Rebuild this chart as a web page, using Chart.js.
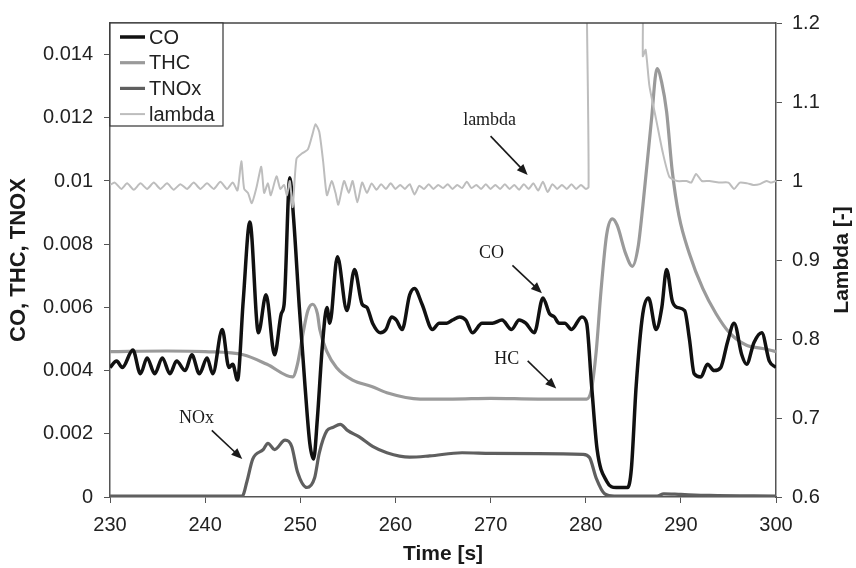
<!DOCTYPE html>
<html>
<head>
<meta charset="utf-8">
<script src="https://cdn.jsdelivr.net/npm/chart.js@4.4.0/dist/chart.umd.min.js"></script>
<style>
  html, body { margin: 0; padding: 0; background: #fff; }
  #wrap { width: 856px; height: 568px; }
</style>
</head>
<body>
<div id="wrap"><canvas id="emissionChart" width="856" height="568"></canvas></div>
<script>
// CO concentration vs time [s]
const coTime = [230, 230.7, 231.3, 232.4, 233.2, 233.9, 234.7, 235.5, 236.3, 237.0, 237.9, 238.6, 239.4, 240.2, 240.8,
  241.8, 242.5, 242.9, 243.4, 244.0, 244.7, 245.6, 246.4, 247.3, 248.0, 248.3, 248.9, 249.3, 249.9, 250.5, 251.0,
  251.4, 251.8, 252.3, 252.8, 253.1, 253.9, 254.9, 255.7, 256.5, 257.0, 257.6, 258.4, 259.0, 259.6, 260.1, 260.7,
  261.5, 262.0, 262.8, 263.9, 264.6, 265.4, 266.0, 266.75, 267.4, 268.1, 269.1, 270.2, 271.2, 272.2, 273.0, 273.7,
  274.6, 275.5, 276.2, 276.7, 277.2, 277.8, 278.5, 279.6, 280.1, 280.6, 281.2, 282.2, 283.2, 284.4, 284.8, 285.3,
  286.0, 286.6, 287.4, 288.0, 288.5, 289.1, 289.6, 290.4, 290.9, 291.4, 292.1, 292.8, 293.5, 294.2, 294.9, 295.6,
  296.4, 296.9, 297.7, 298.5, 299.3, 300];
const coValues = [0.0041, 0.0043, 0.0041, 0.00465, 0.0039, 0.0044, 0.0039, 0.0044, 0.0039, 0.0043, 0.0040, 0.0045, 0.0039, 0.0044, 0.0039,
  0.0053, 0.0041, 0.0042, 0.0037, 0.0062, 0.0087, 0.0052, 0.0064, 0.0045, 0.0058, 0.0061, 0.0101, 0.0088, 0.0060, 0.0035, 0.0017,
  0.0012, 0.0025, 0.0047, 0.0060, 0.0055, 0.0076, 0.0059, 0.0072, 0.0061, 0.0060, 0.0055, 0.0052, 0.0053, 0.0057, 0.0056, 0.0053,
  0.0064, 0.0066, 0.0061, 0.0053, 0.0055, 0.0055, 0.0056, 0.0057, 0.0056, 0.0052, 0.0055, 0.0055, 0.0056, 0.0053, 0.0056, 0.0055,
  0.0052, 0.0063, 0.0058, 0.0057, 0.0055, 0.0055, 0.0053, 0.0057, 0.0055, 0.0036, 0.0015, 0.0005, 0.0003, 0.0003, 0.0009, 0.0035,
  0.0058, 0.0063, 0.0053, 0.0060, 0.0072, 0.0062, 0.0060, 0.0059, 0.0050, 0.0039, 0.0038, 0.0042, 0.0040, 0.0041, 0.0049, 0.0055,
  0.0045, 0.0042, 0.0049, 0.0052, 0.0043, 0.0041];

// total hydrocarbons
const thcTime = [230, 236, 240, 244, 246.5, 249.2, 249.7, 250.3, 250.8, 251.3, 251.8, 252.05, 252.8, 253.8, 255.5, 257.5,
  259.1, 262.6, 266, 270, 275, 280.1, 280.6, 281.1, 281.6, 282.2, 282.8, 283.3, 284.2, 284.9, 285.5, 286.0, 286.9,
  287.5, 288.0, 288.5, 289.1, 289.8, 290.9, 292.3, 293.7, 295.1, 296.9, 298.6, 300];
const thcValues = [0.0046, 0.00462, 0.0046, 0.0045, 0.0042, 0.0038, 0.0042, 0.0052, 0.0059, 0.0061, 0.0058, 0.0053, 0.0046, 0.0041, 0.0037, 0.0035,
  0.0033, 0.0031, 0.0031, 0.00312, 0.0031, 0.0031, 0.0034, 0.0046, 0.0065, 0.0083, 0.0088, 0.0086, 0.0077, 0.0073, 0.0079, 0.0092, 0.0119,
  0.01356, 0.0131, 0.0122, 0.0103, 0.0089, 0.0077, 0.0066, 0.0058, 0.0052, 0.0048, 0.0047, 0.0046];

// total NOx
const noxTime = [230, 243.9, 244.4, 245.0, 246.1, 246.6, 247.3, 248.4, 249.1, 249.7, 250.7, 251.5, 252.0, 252.8, 253.4,
  254.2, 255.0, 256.2, 257.6, 259.1, 261.5, 263.6, 267, 270, 275, 279.7, 280.4, 281.1, 282.0, 283, 287.5, 288.2,
  290, 293, 300];
const noxValues = [0.00003, 0.00003, 0.0005, 0.0012, 0.0015, 0.0017, 0.0015, 0.0018, 0.0016, 0.0008, 0.0003, 0.0006, 0.0014, 0.0021, 0.0022,
  0.0023, 0.0021, 0.0019, 0.0016, 0.0014, 0.00126, 0.0013, 0.0014, 0.00138, 0.00137, 0.00135, 0.00125, 0.0006, 0.0001, 0.00003, 0.00003, 0.0001,
  0.00008, 0.00005, 0.00003];

// air/fuel ratio lambda (right axis)
const lambdaTime = [230, 230.5, 231.2, 231.8, 232.5, 233.2, 233.9, 234.6, 235.3, 236.0, 236.7, 237.4, 238.1, 238.8, 239.5,
  240.2, 240.9, 241.6, 242.3, 242.9, 243.4, 243.8, 244.1, 244.5, 244.9, 245.4, 245.9, 246.2, 246.6, 246.9, 247.5, 247.9,
  248.3, 248.6, 248.9, 249.2, 249.6, 250.2, 250.8, 251.3, 251.6, 252.0, 252.4, 252.8, 253.3, 253.7, 254.0, 254.6, 255.1,
  255.5, 256.0, 256.5, 257.0, 257.5, 258.0, 258.5, 259.0, 259.5, 260.0, 260.5, 261.0, 261.5, 262.0, 262.5, 263.0, 263.5,
  264.0, 264.5, 265.0, 265.5, 266.0, 266.5, 267.0, 267.5, 268.0, 268.5, 269.0, 269.5, 270.0, 270.5, 271.0, 271.5, 272.0,
  272.5, 273.0, 273.5, 274.0, 274.5, 275.0, 275.5, 276.0, 276.5, 277.0, 277.5, 278.0, 278.5, 279.0, 279.5, 280.0, 280.3,
  280.45, 285.85, 286.0, 286.3, 286.7, 287.4, 288.1, 288.8, 289.6, 290.6, 291.1, 291.6, 292.2, 293.0, 294.0, 295.0,
  295.6, 296.2, 297.0, 297.6, 298.3, 299.0, 299.5, 300];
const lambdaValues = [0.995, 0.998, 0.990, 0.997, 0.989, 0.997, 0.990, 0.998, 0.990, 0.997, 0.989, 0.996, 0.990, 0.998, 0.990,
  0.997, 0.990, 0.999, 0.990, 0.998, 0.988, 1.025, 0.990, 0.985, 0.972, 0.992, 1.018, 0.985, 0.997, 0.982, 1.006, 0.990,
  0.995, 0.982, 1.000, 0.967, 1.028, 1.035, 1.040, 1.060, 1.072, 1.062, 1.025, 0.982, 1.000, 0.985, 0.970, 1.000, 0.985,
  1.000, 0.973, 0.998, 0.985, 0.997, 0.989, 0.996, 0.990, 0.997, 0.990, 0.995, 0.990, 0.996, 0.983, 0.994, 0.990, 0.996,
  0.990, 0.995, 0.991, 0.996, 0.990, 0.995, 0.991, 0.999, 0.991, 0.995, 0.990, 0.996, 0.990, 0.995, 0.990, 0.996, 0.990,
  0.995, 0.989, 0.996, 0.990, 0.997, 0.988, 0.999, 0.986, 0.996, 0.990, 0.995, 0.990, 0.996, 0.990, 0.995, 0.990, 0.992,
  1.6, 1.6, 1.158, 1.166, 1.120, 1.078, 1.036, 1.005, 1.000, 1.000, 0.998, 1.009, 1.000, 1.000, 0.998, 0.998,
  0.990, 0.998, 0.997, 0.995, 0.996, 1.000, 0.998, 1.000];

const xTicks = [230, 240, 250, 260, 270, 280, 290, 300];

// text callouts: label, label position, arrow start, arrow end (time, left-axis value)
const notes = [
  { text: 'lambda', at: [269.9, 0.01192], from: [270.0, 0.01142], to: [273.9, 0.01019] },
  { text: 'CO',     at: [270.1, 0.0077],  from: [272.3, 0.00733], to: [275.4, 0.00645] },
  { text: 'HC',     at: [271.7, 0.00437], from: [273.9, 0.00431], to: [276.9, 0.00343] },
  { text: 'NOx',    at: [239.1, 0.00248], from: [240.7, 0.00211], to: [243.9, 0.0012] }
];

const SANS = '"Liberation Sans", Arial, sans-serif';
const SERIF = '"Liberation Serif", "Times New Roman", serif';

function toPoints(times, values) {
  return times.map((t, i) => ({ x: t, y: values[i] }));
}

function drawArrow(ctx, x1, y1, x2, y2) {
  const ang = Math.atan2(y2 - y1, x2 - x1);
  const head = 11, wing = 4.5;
  const cos = Math.cos(ang), sin = Math.sin(ang);
  ctx.beginPath();
  ctx.moveTo(x1, y1);
  ctx.lineTo(x2 - head * 0.7 * cos, y2 - head * 0.7 * sin);
  ctx.stroke();
  ctx.beginPath();
  ctx.moveTo(x2, y2);
  ctx.lineTo(x2 - head * cos + wing * sin, y2 - head * sin - wing * cos);
  ctx.lineTo(x2 - head * cos - wing * sin, y2 - head * sin + wing * cos);
  ctx.closePath();
  ctx.fill();
}

// frame, legend box, callouts and the right-hand title
const decorations = {
  id: 'decorations',
  afterDatasetsDraw(chart) {
    const { ctx, chartArea: area, scales } = chart;
    ctx.save();

    // top border of the plot
    ctx.strokeStyle = '#444';
    ctx.lineWidth = 1.5;
    ctx.beginPath();
    ctx.moveTo(area.left, area.top);
    ctx.lineTo(area.right, area.top);
    ctx.stroke();

    // callouts
    ctx.fillStyle = '#1a1a1a';
    ctx.strokeStyle = '#1a1a1a';
    ctx.lineWidth = 1.6;
    ctx.font = '18px ' + SERIF;
    ctx.textAlign = 'center';
    ctx.textBaseline = 'middle';
    notes.forEach(n => {
      const px = v => scales.x.getPixelForValue(v[0]);
      const py = v => scales.y.getPixelForValue(v[1]);
      ctx.fillText(n.text, px(n.at), py(n.at));
      drawArrow(ctx, px(n.from), py(n.from), px(n.to), py(n.to));
    });

    // legend
    const lx = area.left, ly = area.top;
    ctx.fillStyle = '#fff';
    ctx.fillRect(lx, ly, 113, 103);
    ctx.strokeStyle = '#333';
    ctx.lineWidth = 1.2;
    ctx.strokeRect(lx, ly, 113, 103);
    ctx.font = '20px ' + SANS;
    ctx.textAlign = 'left';
    chart.data.datasets.forEach((ds, i) => {
      const y = ly + 14 + i * 25.7;
      ctx.strokeStyle = ds.borderColor;
      ctx.lineWidth = ds.borderWidth;
      ctx.beginPath();
      ctx.moveTo(lx + 10, y);
      ctx.lineTo(lx + 35, y);
      ctx.stroke();
      ctx.fillStyle = '#222';
      ctx.fillText(ds.label, lx + 39, y + 1);
    });

    // right axis title, reading bottom to top
    ctx.translate(842, (area.top + area.bottom) / 2);
    ctx.rotate(-Math.PI / 2);
    ctx.font = 'bold 21px ' + SANS;
    ctx.textAlign = 'center';
    ctx.fillStyle = '#1a1a1a';
    ctx.fillText('Lambda [-]', 0, 0);
    ctx.restore();
  }
};

const ctx = document.getElementById('emissionChart').getContext('2d');

const chart = new Chart(ctx, {
  type: 'line',
  data: {
    datasets: [
      {
        label: 'CO',
        data: toPoints(coTime, coValues),
        borderColor: '#111',
        borderWidth: 3.5,
        cubicInterpolationMode: 'monotone',
        yAxisID: 'y',
        order: 1
      },
      {
        label: 'THC',
        data: toPoints(thcTime, thcValues),
        borderColor: '#9a9a9a',
        borderWidth: 3.2,
        cubicInterpolationMode: 'monotone',
        yAxisID: 'y',
        order: 2
      },
      {
        label: 'TNOx',
        data: toPoints(noxTime, noxValues),
        borderColor: '#5f5f5f',
        borderWidth: 3.2,
        cubicInterpolationMode: 'monotone',
        yAxisID: 'y',
        order: 3
      },
      {
        label: 'lambda',
        data: toPoints(lambdaTime, lambdaValues),
        borderColor: '#bdbdbd',
        borderWidth: 2,
        tension: 0.2,
        yAxisID: 'y1',
        order: 0
      }
    ]
  },
  options: {
    responsive: false,
    animation: false,
    layout: { padding: { top: 19, left: 0, right: 0, bottom: 0 } },
    elements: { point: { radius: 0 } },
    plugins: {
      legend: { display: false },
      tooltip: { enabled: false }
    },
    scales: {
      x: {
        type: 'linear',
        min: 230,
        max: 300,
        afterBuildTicks: scale => { scale.ticks = xTicks.map(v => ({ value: v })); },
        grid: { drawOnChartArea: false, tickLength: 6, color: '#555' },
        border: { color: '#555', width: 1.5 },
        ticks: { color: '#222', font: { family: SANS, size: 20 }, padding: 10, maxRotation: 0 },
        title: {
          display: true,
          text: 'Time [s]',
          color: '#1a1a1a',
          font: { family: SANS, size: 21, weight: 'bold' },
          padding: { top: 0, bottom: 1 }
        },
        afterFit: scale => { scale.height = 71; }
      },
      y: {
        position: 'left',
        min: 0,
        max: 0.015,
        grid: { drawOnChartArea: false, tickLength: 6, color: '#555' },
        border: { color: '#555', width: 1.5 },
        ticks: {
          stepSize: 0.002,
          includeBounds: false,
          color: '#222',
          padding: 11,
          font: { family: SANS, size: 20 },
          callback: v => String(Number(v.toFixed(4)))
        },
        title: {
          display: true,
          text: 'CO, THC, TNOX',
          color: '#1a1a1a',
          font: { family: SANS, size: 22, weight: 'bold' },
          padding: { top: 6, bottom: 0 }
        },
        afterFit: scale => { scale.width = 110; }
      },
      y1: {
        position: 'right',
        min: 0.6,
        max: 1.2,
        grid: { drawOnChartArea: false, tickLength: 6, color: '#555' },
        border: { color: '#555', width: 1.5 },
        ticks: {
          stepSize: 0.1,
          color: '#222',
          padding: 10,
          font: { family: SANS, size: 20 },
          callback: v => String(Number(v.toFixed(2)))
        },
        afterFit: scale => { scale.width = 80; }
      }
    }
  },
  plugins: [decorations]
});
</script>
</body>
</html>
